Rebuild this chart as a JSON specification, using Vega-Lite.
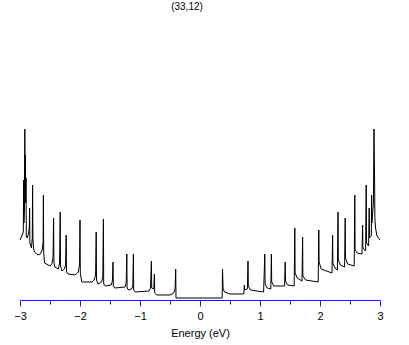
{
  "$schema": "https://vega.github.io/schema/vega-lite/v6.json",
  "autosize": {"type": "none"},
  "width": 360,
  "height": 280,
  "padding": {"left": 20, "top": 20, "right": 29, "bottom": 45},
  "background": "white",
  "config": {"view": {"stroke": null}},
  "title": {"text": "(33,12)", "font": "Liberation Sans", "fontSize": 10, "fontWeight": "normal", "color": "black", "anchor": "middle", "dx": -13, "offset": 8},
  "data": {"values": [
    {"E": -3.00, "D": 58}, {"E": -2.97, "D": 62}, {"E": -2.945, "D": 66}, {"E": -2.94, "D": 118}, {"E": -2.935, "D": 75},
    {"E": -2.925, "D": 90}, {"E": -2.92, "D": 169}, {"E": -2.915, "D": 110}, {"E": -2.91, "D": 143}, {"E": -2.905, "D": 95},
    {"E": -2.90, "D": 120}, {"E": -2.895, "D": 62}, {"E": -2.88, "D": 60}, {"E": -2.86, "D": 64}, {"E": -2.845, "D": 70},
    {"E": -2.84, "D": 90}, {"E": -2.835, "D": 55}, {"E": -2.81, "D": 50}, {"E": -2.795, "D": 60}, {"E": -2.79, "D": 113},
    {"E": -2.785, "D": 60}, {"E": -2.775, "D": 50}, {"E": -2.76, "D": 46}, {"E": -2.70, "D": 43}, {"E": -2.66, "D": 44},
    {"E": -2.63, "D": 48}, {"E": -2.615, "D": 56}, {"E": -2.61, "D": 103}, {"E": -2.605, "D": 45}, {"E": -2.59, "D": 35},
    {"E": -2.50, "D": 32}, {"E": -2.47, "D": 34}, {"E": -2.45, "D": 40}, {"E": -2.44, "D": 80}, {"E": -2.435, "D": 36},
    {"E": -2.42, "D": 31}, {"E": -2.36, "D": 29}, {"E": -2.34, "D": 36}, {"E": -2.33, "D": 86}, {"E": -2.325, "D": 32},
    {"E": -2.30, "D": 27}, {"E": -2.26, "D": 29}, {"E": -2.24, "D": 33}, {"E": -2.23, "D": 63}, {"E": -2.225, "D": 26},
    {"E": -2.20, "D": 24}, {"E": -2.08, "D": 23}, {"E": -2.03, "D": 26}, {"E": -2.008, "D": 33}, {"E": -2.00, "D": 78},
    {"E": -1.995, "D": 25}, {"E": -1.97, "D": 16}, {"E": -1.80, "D": 16}, {"E": -1.765, "D": 18}, {"E": -1.74, "D": 23},
    {"E": -1.73, "D": 66}, {"E": -1.725, "D": 18}, {"E": -1.70, "D": 14}, {"E": -1.64, "D": 16}, {"E": -1.62, "D": 21},
    {"E": -1.61, "D": 79}, {"E": -1.605, "D": 14}, {"E": -1.58, "D": 12}, {"E": -1.48, "D": 13}, {"E": -1.46, "D": 17},
    {"E": -1.45, "D": 36}, {"E": -1.445, "D": 12}, {"E": -1.42, "D": 10}, {"E": -1.25, "D": 11}, {"E": -1.23, "D": 15},
    {"E": -1.22, "D": 44}, {"E": -1.215, "D": 10}, {"E": -1.19, "D": 8}, {"E": -1.14, "D": 9}, {"E": -1.12, "D": 12},
    {"E": -1.11, "D": 44}, {"E": -1.105, "D": 8}, {"E": -1.08, "D": 6}, {"E": -0.85, "D": 7}, {"E": -0.825, "D": 10},
    {"E": -0.81, "D": 37}, {"E": -0.805, "D": 10}, {"E": -0.77, "D": 9}, {"E": -0.76, "D": 24}, {"E": -0.755, "D": 5},
    {"E": -0.72, "D": 3}, {"E": -0.50, "D": 3}, {"E": -0.44, "D": 5}, {"E": -0.415, "D": 9}, {"E": -0.405, "D": 29},
    {"E": -0.40, "D": 0}, {"E": 0.37, "D": 0}, {"E": 0.375, "D": 29}, {"E": 0.385, "D": 9}, {"E": 0.41, "D": 6},
    {"E": 0.50, "D": 4}, {"E": 0.73, "D": 4}, {"E": 0.74, "D": 13}, {"E": 0.745, "D": 8}, {"E": 0.79, "D": 9},
    {"E": 0.80, "D": 37}, {"E": 0.805, "D": 12}, {"E": 0.84, "D": 8}, {"E": 1.06, "D": 6}, {"E": 1.08, "D": 44},
    {"E": 1.085, "D": 14}, {"E": 1.12, "D": 10}, {"E": 1.18, "D": 9}, {"E": 1.19, "D": 44}, {"E": 1.195, "D": 16},
    {"E": 1.23, "D": 12}, {"E": 1.41, "D": 12}, {"E": 1.42, "D": 36}, {"E": 1.425, "D": 17}, {"E": 1.46, "D": 13},
    {"E": 1.57, "D": 12}, {"E": 1.58, "D": 70}, {"E": 1.585, "D": 25}, {"E": 1.62, "D": 20}, {"E": 1.70, "D": 17},
    {"E": 1.71, "D": 61}, {"E": 1.715, "D": 22}, {"E": 1.76, "D": 18}, {"E": 1.97, "D": 16}, {"E": 1.98, "D": 68},
    {"E": 1.985, "D": 36}, {"E": 2.02, "D": 29}, {"E": 2.20, "D": 25}, {"E": 2.21, "D": 63}, {"E": 2.215, "D": 35},
    {"E": 2.25, "D": 30}, {"E": 2.29, "D": 28}, {"E": 2.30, "D": 86}, {"E": 2.305, "D": 38}, {"E": 2.34, "D": 33},
    {"E": 2.41, "D": 31}, {"E": 2.42, "D": 80}, {"E": 2.425, "D": 40}, {"E": 2.46, "D": 34}, {"E": 2.57, "D": 32},
    {"E": 2.58, "D": 103}, {"E": 2.585, "D": 48}, {"E": 2.62, "D": 45}, {"E": 2.70, "D": 44}, {"E": 2.71, "D": 73},
    {"E": 2.715, "D": 50}, {"E": 2.76, "D": 47}, {"E": 2.77, "D": 113}, {"E": 2.775, "D": 55}, {"E": 2.81, "D": 52},
    {"E": 2.82, "D": 90}, {"E": 2.825, "D": 60}, {"E": 2.855, "D": 62}, {"E": 2.86, "D": 103}, {"E": 2.865, "D": 75},
    {"E": 2.89, "D": 95}, {"E": 2.90, "D": 169}, {"E": 2.91, "D": 118}, {"E": 2.915, "D": 80}, {"E": 2.925, "D": 70},
    {"E": 2.95, "D": 62}, {"E": 3.00, "D": 58}
  ]},
  "mark": {"type": "line", "color": "black", "strokeWidth": 1, "interpolate": "linear"},
  "encoding": {
    "x": {"field": "E", "type": "quantitative", "sort": null,
      "scale": {"domain": [-3, 3], "nice": false, "zero": false},
      "axis": {
        "title": "Energy (eV)",
        "values": [-3, -2.5, -2, -1.5, -1, -0.5, 0, 0.5, 1, 1.5, 2, 2.5, 3],
        "labelExpr": "datum.value % 1 == 0 ? format(datum.value, 'd') : ''",
        "grid": false,
        "domainColor": "#2222bb",
        "tickColor": "#2222bb",
        "tickSize": {"expr": "datum.value % 1 == 0 ? 6 : 4"},
        "labelColor": "black",
        "labelFont": "Liberation Sans",
        "labelFontSize": 11,
        "labelPadding": 4,
        "labelFlush": false,
        "titleFont": "Liberation Sans",
        "titleFontSize": 11,
        "titleFontWeight": "normal",
        "titleColor": "black",
        "titlePadding": 6
      }
    },
    "y": {"field": "D", "type": "quantitative",
      "scale": {"domain": [-2, 278], "nice": false, "zero": false},
      "axis": null
    }
  }
}
